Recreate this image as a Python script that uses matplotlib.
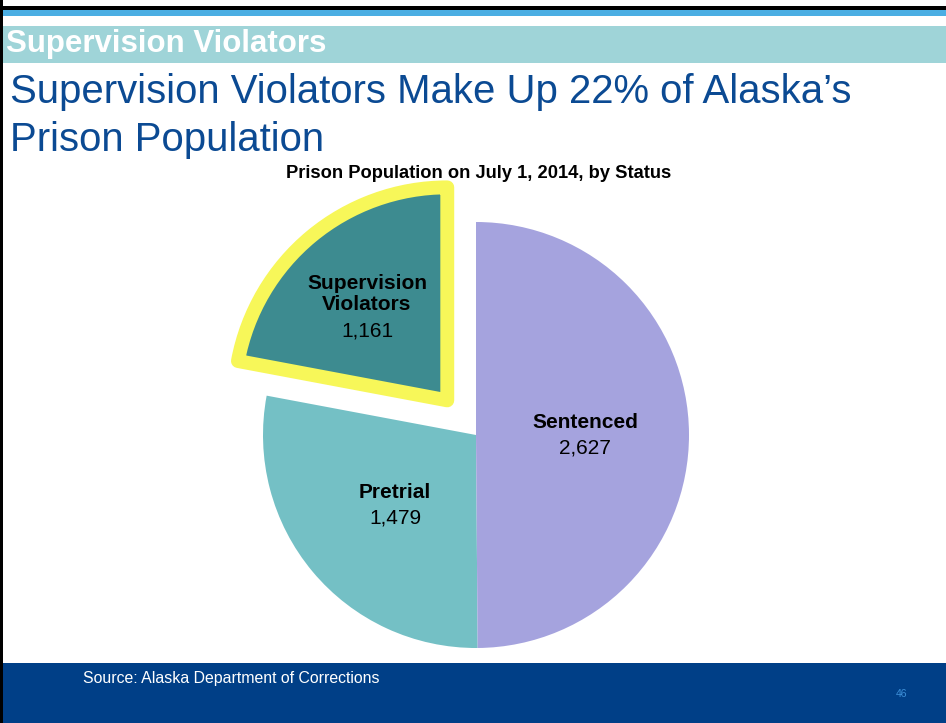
import matplotlib.pyplot as plt
from matplotlib.patches import Rectangle

plt.rcParams['font.family'] = ['Liberation Sans', 'DejaVu Sans']

# ----- Data -----
statuses = ['Supervision\nViolators', 'Pretrial', 'Sentenced']
counts = [1161, 1479, 2627]
value_labels = ['1,161', '1,479', '2,627']
colors = ['#3d8b90', '#74c0c5', '#a5a3de']

W, H = 946, 723
NAVY = '#003f87'

fig = plt.figure(figsize=(W / 100, H / 100), dpi=100)
ax = fig.add_axes([0, 0, 1, 1])


def top(y):
    # slide coordinates are measured from the top edge
    return H - y


# ----- slide frame -----
def band(x0, y0, x1, y1, color):
    ax.add_patch(Rectangle((x0, top(y1)), x1 - x0, y1 - y0, color=color, lw=0, zorder=1))


band(0, 6, W, 10, 'black')
band(0, 10, W, 16, '#4baee3')
band(0, 26, W, 63, '#9fd4d8')
band(0, 663, W, H, NAVY)
band(0, 0, 3, H, 'black')

ax.text(6, top(44), 'Supervision Violators', color='white', fontsize=22.5,
        fontweight='bold', va='center', ha='left', zorder=3)
ax.text(10, top(103), 'Supervision Violators Make Up 22% of Alaska\u2019s',
        color='#0b4a93', fontsize=28.9, va='baseline', ha='left', zorder=3)
ax.text(10, top(151), 'Prison Population',
        color='#0b4a93', fontsize=28.9, va='baseline', ha='left', zorder=3)
ax.text(479, top(173), 'Prison Population on July 1, 2014, by Status',
        fontsize=13.2, fontweight='bold', ha='center', va='center', zorder=3)
ax.text(83, top(679), 'Source: Alaska Department of Corrections', color='white',
        fontsize=11.4, ha='left', va='center', zorder=3)
ax.text(896, top(694), '46', color='#3d8fd8', fontsize=7.5, ha='left', va='center', zorder=3)

# ----- pie -----
cx, cy, r = 476, top(435), 213
wedges, _ = ax.pie(counts, colors=colors, startangle=90, counterclock=True,
                   center=(cx, cy), radius=r, explode=[45, 0, 0],
                   wedgeprops=dict(linewidth=0))
for w in wedges:
    w.set_zorder(2)
wedges[0].set_edgecolor('#f7f759')
wedges[0].set_linewidth(10)
wedges[0].set_joinstyle('round')

label_pos = [(367, 294), (395, 493), (585, 423)]
for name, val, (lx, ly) in zip(statuses, value_labels, label_pos):
    n_lines = name.count('\n') + 1
    ax.text(lx, top(ly), name, fontsize=15, fontweight='bold', ha='center',
            va='center', linespacing=1.15, zorder=4)
    ax.text(lx, top(ly + 12 * n_lines + 13), val, fontsize=15, ha='center',
            va='center', zorder=4)

ax.set_xlim(0, W)
ax.set_ylim(0, H)
ax.set_aspect('auto')
ax.axis('off')

fig.savefig('out.png', dpi=100)
